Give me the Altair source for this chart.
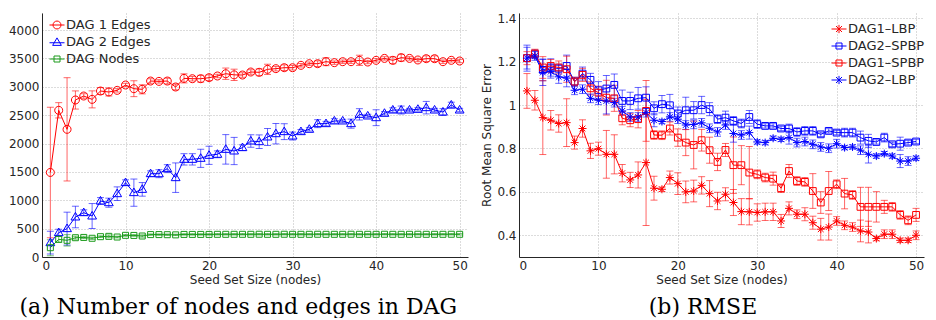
import altair as alt
import pandas as pd

# ---------------- data ----------------
x_vals = list(range(1, 51))

# (a) Number of nodes and edges in DAG
dag1_edges = [1490, 2585, 2250, 2767, 2837, 2778, 2925, 2908, 2937, 3031,
              2966, 2955, 3101, 3095, 3101, 2996, 3148, 3142, 3142, 3160,
              3190, 3230, 3210, 3207, 3260, 3255, 3307, 3319, 3336, 3336,
              3378, 3407, 3407, 3442, 3425, 3442, 3442, 3466, 3436, 3466,
              3500, 3466, 3513, 3500, 3472, 3495, 3495, 3442, 3466, 3454]
dag1_edges_err = [1150, 135, 910, 160, 40, 150, 60, 70, 30, 30,
                  140, 80, 40, 30, 50, 50, 80, 40, 60, 50,
                  30, 100, 100, 40, 40, 60, 90, 40, 50, 40,
                  30, 30, 50, 70, 30, 30, 30, 90, 30, 30,
                  30, 60, 60, 30, 30, 50, 50, 30, 30, 30]
dag2_edges = [252, 429, 500, 705, 781, 722, 987, 957, 1116, 1310,
              1134, 1192, 1468, 1468, 1557, 1398, 1721, 1721, 1739, 1792,
              1810, 1897, 1868, 1927, 2044, 2032, 2115, 2173, 2209, 2132,
              2209, 2250, 2350, 2350, 2397, 2397, 2350, 2514, 2485, 2455,
              2532, 2590, 2590, 2590, 2602, 2632, 2590, 2555, 2678, 2590]
dag2_edges_err = [200, 60, 290, 190, 50, 220, 60, 80, 120, 50,
                  240, 120, 50, 70, 70, 260, 100, 100, 160, 160,
                  60, 260, 240, 50, 110, 120, 150, 180, 140, 70,
                  40, 30, 70, 40, 40, 30, 80, 100, 30, 140,
                  30, 40, 70, 30, 30, 110, 30, 60, 50, 30]
dag_nodes = [164, 311, 294, 340, 345, 330, 358, 364, 352, 382,
             380, 370, 395, 395, 393, 390, 398, 398, 398, 398,
             400, 400, 400, 400, 400, 401, 400, 400, 401, 400,
             400, 400, 401, 400, 400, 400, 401, 400, 400, 400,
             401, 400, 400, 400, 401, 400, 400, 400, 401, 400]
dag_nodes_err = [140, 50, 100, 25, 20, 20, 15, 25, 15, 15,
                 15, 20, 12, 12, 12, 12, 12, 12, 12, 12,
                 12, 12, 12, 12, 12, 12, 12, 12, 12, 12,
                 12, 12, 12, 12, 12, 12, 12, 12, 12, 12,
                 12, 12, 12, 12, 12, 12, 12, 12, 12, 12]

# (b) RMSE
dag1_lbp = [1.065, 1.022, 0.942, 0.930, 0.915, 0.919, 0.827, 0.892, 0.789, 0.799,
            0.773, 0.773, 0.686, 0.655, 0.678, 0.735, 0.617, 0.612, 0.666, 0.638,
            0.600, 0.604, 0.630, 0.592, 0.558, 0.589, 0.551, 0.509, 0.508, 0.505,
            0.508, 0.508, 0.466, 0.524, 0.497, 0.497, 0.458, 0.428, 0.438, 0.466,
            0.446, 0.438, 0.420, 0.415, 0.385, 0.405, 0.405, 0.377, 0.377, 0.400]
dag1_lbp_err = [0.08, 0.045, 0.17, 0.045, 0.04, 0.11, 0.03, 0.04, 0.035, 0.03,
                0.11, 0.09, 0.04, 0.035, 0.06, 0.29, 0.055, 0.01, 0.03, 0.05,
                0.05, 0.05, 0.04, 0.06, 0.04, 0.03, 0.06, 0.06, 0.06, 0.04,
                0.04, 0.04, 0.03, 0.03, 0.02, 0.03, 0.03, 0.05, 0.06, 0.02,
                0.02, 0.02, 0.05, 0.05, 0.01, 0.02, 0.02, 0.01, 0.01, 0.02]
dag2_spbp = [1.216, 1.234, 1.162, 1.173, 1.168, 1.180, 1.108, 1.145, 1.116, 1.068,
             1.076, 1.093, 1.019, 1.019, 1.031, 1.034, 0.985, 1.004, 0.999, 0.961,
             0.976, 0.976, 1.000, 0.981, 0.935, 0.942, 0.927, 0.915, 0.945, 0.912,
             0.904, 0.904, 0.892, 0.892, 0.876, 0.881, 0.881, 0.865, 0.881, 0.873,
             0.873, 0.873, 0.850, 0.835, 0.830, 0.850, 0.819, 0.822, 0.827, 0.832]
dag2_spbp_err = [0.06, 0.02, 0.05, 0.04, 0.02, 0.05, 0.02, 0.03, 0.03, 0.04,
                 0.06, 0.05, 0.05, 0.04, 0.05, 0.05, 0.03, 0.04, 0.05, 0.03,
                 0.06, 0.04, 0.04, 0.03, 0.02, 0.03, 0.02, 0.02, 0.03, 0.02,
                 0.01, 0.01, 0.01, 0.02, 0.02, 0.02, 0.02, 0.01, 0.01, 0.01,
                 0.02, 0.02, 0.03, 0.03, 0.01, 0.02, 0.01, 0.03, 0.01, 0.01]
dag1_spbp = [1.216, 1.237, 1.173, 1.180, 1.173, 1.165, 1.108, 1.139, 1.077, 1.057,
             1.034, 1.031, 0.939, 0.930, 0.935, 0.973, 0.862, 0.861, 0.892, 0.850,
             0.827, 0.816, 0.838, 0.792, 0.738, 0.793, 0.723, 0.723, 0.689, 0.681,
             0.666, 0.661, 0.617, 0.696, 0.650, 0.646, 0.604, 0.551, 0.604, 0.635,
             0.592, 0.586, 0.531, 0.531, 0.531, 0.531, 0.531, 0.494, 0.469, 0.494]
dag1_spbp_err = [0.03, 0.02, 0.05, 0.03, 0.03, 0.06, 0.02, 0.03, 0.03, 0.03,
                 0.08, 0.06, 0.03, 0.03, 0.04, 0.14, 0.02, 0.02, 0.03, 0.04,
                 0.06, 0.11, 0.05, 0.06, 0.04, 0.03, 0.13, 0.09, 0.12, 0.02,
                 0.02, 0.03, 0.02, 0.03, 0.02, 0.02, 0.08, 0.05, 0.09, 0.02,
                 0.07, 0.02, 0.09, 0.09, 0.07, 0.03, 0.02, 0.02, 0.02, 0.03]
dag2_lbp = [1.216, 1.226, 1.150, 1.154, 1.130, 1.124, 1.068, 1.073, 1.031, 1.022,
            1.019, 1.011, 0.973, 0.945, 0.945, 0.965, 0.930, 0.924, 0.945, 0.935,
            0.908, 0.911, 0.918, 0.893, 0.876, 0.908, 0.869, 0.862, 0.873, 0.830,
            0.827, 0.847, 0.842, 0.850, 0.827, 0.832, 0.819, 0.807, 0.801, 0.822,
            0.804, 0.807, 0.792, 0.773, 0.765, 0.776, 0.765, 0.742, 0.742, 0.755]
dag2_lbp_err = [0.05, 0.02, 0.06, 0.03, 0.03, 0.04, 0.02, 0.02, 0.02, 0.02,
                0.06, 0.02, 0.02, 0.02, 0.02, 0.02, 0.03, 0.01, 0.02, 0.02,
                0.02, 0.02, 0.02, 0.02, 0.02, 0.02, 0.04, 0.02, 0.03, 0.01,
                0.01, 0.01, 0.01, 0.03, 0.02, 0.02, 0.02, 0.02, 0.02, 0.02,
                0.01, 0.01, 0.02, 0.04, 0.01, 0.01, 0.01, 0.03, 0.02, 0.01]

left_names = ["DAG 1 Edges", "DAG 2 Edges", "DAG Nodes"]
left_colors = ["#ff0000", "#0000ff", "#1a9a1a"]
right_names = ["DAG1–LBP", "DAG2–SPBP", "DAG1–SPBP", "DAG2–LBP"]
right_colors = ["#ff0000", "#0000ff", "#ff0000", "#0000ff"]

# marker shapes (plot) and legend symbols (line through marker)
CIRCLE = "M1,0A1,1 0 1,1 -1,0A1,1 0 1,1 1,0Z"
TRIANGLE = "M0,-1.15L1.1,0.75L-1.1,0.75Z"
SQUARE = "M-0.75,-0.75H0.75V0.75H-0.75Z"
SQUARE_R = "M-0.85,-0.85H0.85V0.85H-0.85Z"
STAR = "M-1,0H1M0,-1V1M-0.72,-0.72L0.72,0.72M-0.72,0.72L0.72,-0.72"

L_CIRCLE = "M-1,0H1M0.53,0A0.53,0.53 0 1,1 -0.53,0A0.53,0.53 0 1,1 0.53,0Z"
L_TRIANGLE = "M-1,0.1H1M0,-0.55L0.58,0.45L-0.58,0.45Z"
L_SQUARE = "M-1,0H1M-0.4,-0.4H0.4V0.4H-0.4Z"
L_STAR = "M-1,0H1M0,-0.55V0.55M-0.4,-0.4L0.4,0.4M-0.4,0.4L0.4,-0.4"


def make_df(names, means, errs):
    rows = []
    for name, m, e in zip(names, means, errs):
        for xi, mi, ei in zip(x_vals, m, e):
            rows.append({"x": xi, "value": mi, "lo": mi - ei, "hi": mi + ei, "series": name})
    return pd.DataFrame(rows)


left_df = make_df(left_names,
                  [dag1_edges, dag2_edges, dag_nodes],
                  [dag1_edges_err, dag2_edges_err, dag_nodes_err])
right_df = make_df(right_names,
                   [dag1_lbp, dag2_spbp, dag1_spbp, dag2_lbp],
                   [dag1_lbp_err, dag2_spbp_err, dag1_spbp_err, dag2_lbp_err])


def panel(df, names, colors, pt_paths, leg_paths, ydomain, yvalues, ytitle,
          width, height, caption, legx, legy, yformat):
    xscale = alt.Scale(domain=[0, 51], nice=False, zero=False)
    xaxis = alt.Axis(values=[0, 10, 20, 30, 40, 50], title="Seed Set Size (nodes)")
    yscale = alt.Scale(domain=ydomain, nice=False, zero=False)
    yaxis = alt.Axis(values=yvalues, title=ytitle, format=yformat)

    def X():
        return alt.X("x:Q", scale=xscale, axis=xaxis)

    def Y(field):
        return alt.Y(field, scale=yscale, axis=yaxis)

    def C(legend=None):
        if legend is None:
            return alt.Color("series:N", scale=alt.Scale(domain=names, range=colors), legend=None)
        return alt.Color("series:N", scale=alt.Scale(domain=names, range=colors), legend=legend)

    base = alt.Chart(df)
    err = base.mark_rule(strokeWidth=1, opacity=0.6).encode(
        x=X(), y=Y("lo:Q"), y2="hi:Q", color=C())
    cap_lo = base.mark_tick(orient="horizontal", size=7, thickness=1, opacity=0.6).encode(
        x=X(), y=Y("lo:Q"), color=C())
    cap_hi = base.mark_tick(orient="horizontal", size=7, thickness=1, opacity=0.6).encode(
        x=X(), y=Y("hi:Q"), color=C())
    line = base.mark_line(strokeWidth=1).encode(
        x=X(), y=Y("value:Q"), color=C())
    pts = base.mark_point(filled=False, size=64, strokeWidth=1, opacity=1).encode(
        x=X(), y=Y("value:Q"), color=C(),
        shape=alt.Shape("series:N", scale=alt.Scale(domain=names, range=pt_paths), legend=None))
    leg_def = alt.Legend(title=None, orient="none", legendX=legx, legendY=legy)
    leg = base.transform_filter("false").mark_point(filled=False, strokeWidth=1, opacity=1).encode(
        x=X(), y=Y("value:Q"), color=C(leg_def),
        shape=alt.Shape("series:N", scale=alt.Scale(domain=names, range=leg_paths), legend=leg_def))
    return alt.layer(err, cap_lo, cap_hi, line, pts, leg).resolve_scale(
        color="independent", shape="independent"
    ).properties(
        width=width, height=height,
        title=alt.TitleParams(text=caption, orient="bottom", anchor="middle", frame="bounds", offset=12),
    )


left = panel(left_df, left_names, left_colors,
             [CIRCLE, TRIANGLE, SQUARE], [L_CIRCLE, L_TRIANGLE, L_SQUARE],
             [0, 4300], [0, 500, 1000, 1500, 2000, 2500, 3000, 3500, 4000], None,
             426, 244, "(a) Number of nodes and edges in DAG", 7, 4, "d")
right = panel(right_df, right_names, right_colors,
              [STAR, SQUARE_R, SQUARE_R, STAR], [L_STAR, L_SQUARE, L_SQUARE, L_STAR],
              [0.3, 1.424], [0.4, 0.6, 0.8, 1.0, 1.2, 1.4], "Root Mean Square Error",
              405, 244, "(b) RMSE", 312, 8, "~g")

chart = alt.hconcat(left, right, spacing=12).properties(
    padding={"left": 0, "top": 4, "right": 0, "bottom": 0}
).configure_view(
    stroke=None
).configure_axis(
    domainColor="#262626", domainWidth=1, grid=True, gridColor="#b8b8b8",
    gridDash=[1, 2], gridWidth=1, ticks=False,
    labelFont="DejaVu Sans", labelFontSize=12, labelColor="#262626",
    titleFont="DejaVu Sans", titleFontSize=12, titleFontWeight="normal", titleColor="#262626",
).configure_axisX(
    labelPadding=3, titlePadding=3
).configure_axisY(
    labelPadding=3, titlePadding=3
).configure_legend(
    labelFont="DejaVu Sans", labelFontSize=13, labelColor="#262626",
    symbolStrokeWidth=1, symbolSize=225, rowPadding=2, labelOffset=1, padding=0,
).configure_title(
    font="DejaVu Serif", fontSize=22, fontWeight="normal", color="#000000",
)

chart.save("out.html", embed_options={"renderer": "svg", "actions": False})
